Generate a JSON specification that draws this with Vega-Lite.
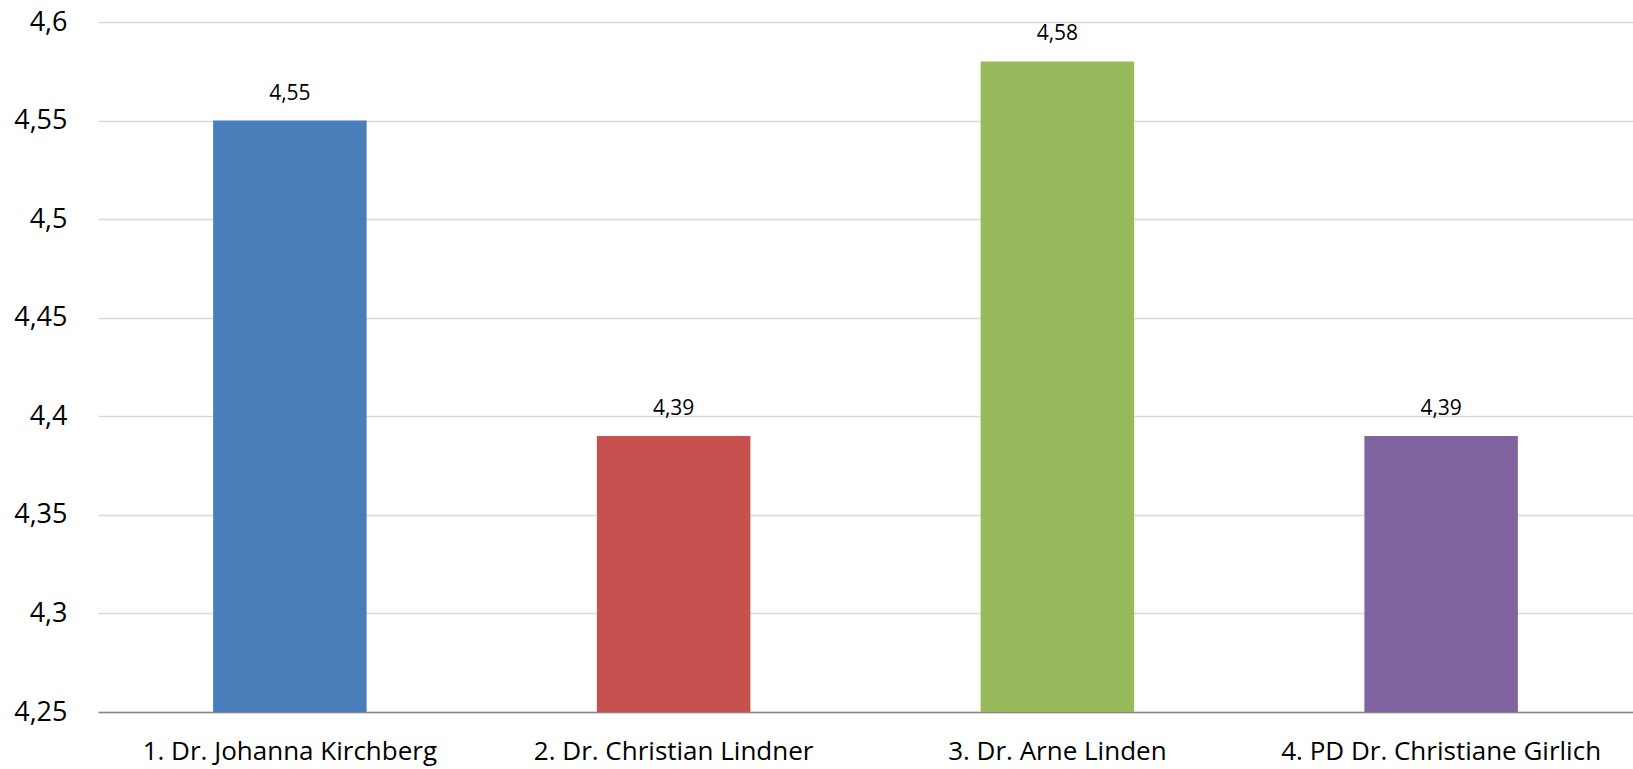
{
  "$schema": "https://vega.github.io/schema/vega-lite/v6.json",
  "autosize": {"type": "none"},
  "width": 1535,
  "height": 690,
  "padding": {"left": 98, "top": 22, "right": 0, "bottom": 57},
  "background": "white",
  "config": {
    "view": {"stroke": null},
    "locale": {"number": {"decimal": ",", "thousands": ".", "grouping": [3], "currency": ["", " €"]}},
    "font": "Open Sans"
  },
  "data": {
    "values": [
      {"name": "1. Dr. Johanna Kirchberg", "value": 4.55},
      {"name": "2. Dr. Christian Lindner", "value": 4.39},
      {"name": "3. Dr. Arne Linden", "value": 4.58},
      {"name": "4. PD Dr. Christiane Girlich", "value": 4.39}
    ]
  },
  "encoding": {
    "x": {
      "field": "name",
      "type": "nominal",
      "sort": null,
      "title": null,
      "scale": {"paddingInner": 0.6, "paddingOuter": 0.3},
      "axis": {
        "labelAngle": 0,
        "labelFont": "Open Sans",
        "labelFontSize": 26,
        "labelColor": "#000000",
        "labelPadding": 26,
        "ticks": false,
        "domainColor": "#868686",
        "domainWidth": 1.5,
        "grid": false,
        "labelLimit": 500
      }
    },
    "y": {
      "field": "value",
      "type": "quantitative",
      "title": null,
      "scale": {"domain": [4.25, 4.6], "zero": false, "nice": false},
      "axis": {
        "values": [4.25, 4.3, 4.35, 4.4, 4.45, 4.5, 4.55, 4.6],
        "format": ".2~f",
        "labelFont": "Open Sans",
        "labelFontSize": 27,
        "labelColor": "#000000",
        "labelPadding": 31,
        "ticks": false,
        "domain": false,
        "grid": true,
        "gridColor": "#d9d9d9",
        "gridWidth": 1.5
      }
    }
  },
  "layer": [
    {
      "mark": {"type": "bar"},
      "encoding": {
        "y2": {"datum": 4.25},
        "color": {
          "field": "name",
          "type": "nominal",
          "sort": null,
          "legend": null,
          "scale": {"range": ["#4a7ebb", "#c6514e", "#98ba5c", "#8064a0"]}
        }
      }
    },
    {
      "mark": {"type": "text", "baseline": "middle", "dy": -27, "font": "Open Sans", "fontSize": 21, "color": "#000000"},
      "encoding": {
        "text": {"field": "value", "type": "quantitative", "format": ".2f"}
      }
    }
  ]
}
